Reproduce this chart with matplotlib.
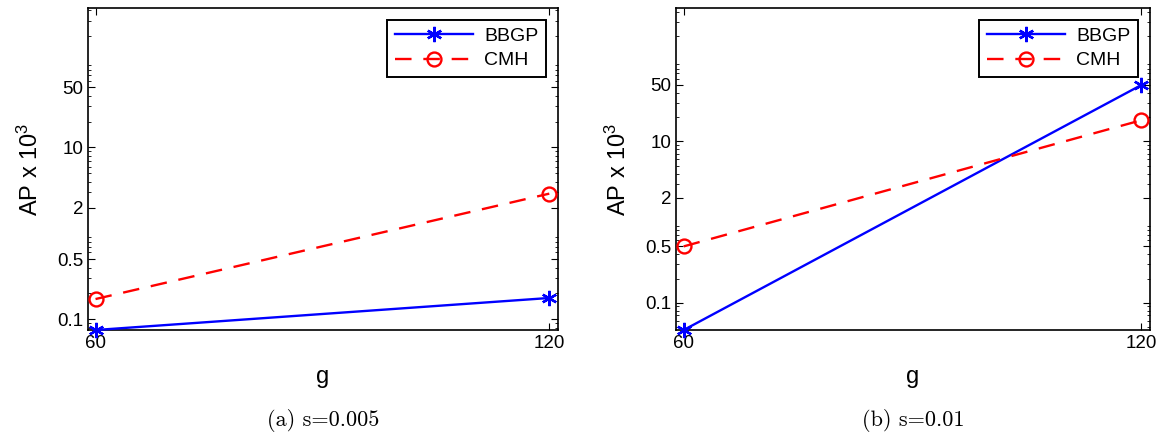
import matplotlib.pyplot as plt
from matplotlib.ticker import LogLocator, NullFormatter

plt.rcParams['font.family'] = ['Liberation Sans', 'DejaVu Sans']
plt.rcParams['mathtext.fontset'] = 'custom'
plt.rcParams['mathtext.rm'] = 'Liberation Sans'
plt.rcParams['mathtext.it'] = 'Liberation Sans'
plt.rcParams['mathtext.default'] = 'regular'

# Données
g = [60, 120]
bbgp_a = [0.075, 0.177]
cmh_a = [0.172, 2.9]
bbgp_b = [0.046, 50]
cmh_b = [0.5, 18.3]

yticks = [0.1, 0.5, 2, 10, 50]
ytick_labels = ["0.1", "0.5", "2", "10", "50"]
captions = ["(a) s=0.005", "(b) s=0.01"]

fig = plt.figure(figsize=(11.62, 4.34), dpi=100)
ax1 = fig.add_axes([0.0757, 0.2396, 0.4045, 0.742])
ax2 = fig.add_axes([0.5818, 0.2396, 0.408, 0.742])

panneaux = [(ax1, bbgp_a, cmh_a, (0.075, 420)), (ax2, bbgp_b, cmh_b, (0.046, 450))]

for i, (ax, bbgp, cmh, ylim) in enumerate(panneaux):
    ax.plot(g, bbgp, color="#0000ff", lw=1.7, marker=(6, 2, 0), ms=11, mew=1.7,
            label="BBGP", clip_on=False, zorder=3)
    ax.plot(g, cmh, color="#ff0000", lw=1.7, ls=(0, (7, 5)), marker="o", ms=10,
            mfc="none", mew=1.7, label="CMH", clip_on=False, zorder=3)
    ax.set_yscale("log")
    ax.set_ylim(*ylim)
    ax.set_xlim(59.0, 121.15)
    ax.set_xticks(g)
    ax.set_xticklabels([str(v) for v in g])
    ax.set_yticks(yticks)
    ax.set_yticklabels(ytick_labels)
    ax.yaxis.set_minor_locator(LogLocator(base=10, subs=range(2, 10), numticks=20))
    ax.yaxis.set_minor_formatter(NullFormatter())
    ax.tick_params(which="both", direction="in", top=True, right=True, labelsize=13.5)
    ax.tick_params(which="major", length=5, width=0.8)
    ax.tick_params(which="minor", length=2.5, width=0.6)
    for sp in ax.spines.values():
        sp.set_linewidth(1.2)
    ax.set_xlabel("g", fontsize=17, labelpad=10)
    ax.set_ylabel(r"AP x 10$^{3}$", fontsize=17, labelpad=10)
    leg = ax.legend(loc="upper right", fontsize=14, handlelength=4.0, frameon=True,
                    fancybox=False, framealpha=1, edgecolor="black",
                    borderaxespad=0.6, handletextpad=0.6, labelspacing=0.35)
    leg.get_frame().set_linewidth(1.4)
    leg.set_zorder(5)
    pos = ax.get_position()
    fig.text(pos.x0 + pos.width / 2, 0.032, captions[i], ha="center", va="center",
             fontsize=16, family="cmr10")

plt.savefig("out.png", dpi=100)
